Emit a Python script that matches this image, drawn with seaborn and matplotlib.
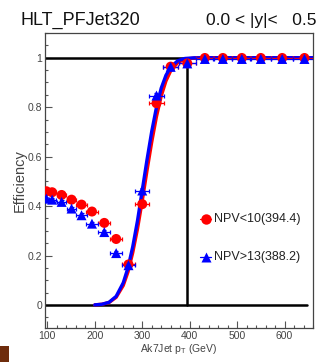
import numpy as np
import pandas as pd
import matplotlib
matplotlib.use("Agg")
import matplotlib.pyplot as plt
import seaborn as sns
from matplotlib.ticker import MultipleLocator, FixedLocator
from matplotlib.patches import Rectangle

sns.set_theme(style="white")
plt.rcParams['font.family'] = ['Liberation Sans', 'DejaVu Sans']

# ---- data ----
pt_bins = [98, 110, 130, 151, 172, 194, 220, 245, 271, 300, 330, 360, 395, 432, 470, 510, 550, 595, 642]
pt_halfwidth = [6, 8, 10, 10, 11, 12, 13, 13, 13, 15, 15, 16, 18, 19, 20, 20, 22, 23, 25]
eff_low = [0.46, 0.456, 0.445, 0.426, 0.406, 0.378, 0.332, 0.267, 0.164, 0.408, 0.816, 0.964, 0.977,
           0.999, 0.999, 0.999, 0.999, 0.999, 0.999]
eff_high = [0.43, 0.426, 0.417, 0.39, 0.363, 0.329, 0.295, 0.21, 0.161, 0.463, 0.847, 0.963, 0.977,
            0.995, 0.995, 0.995, 0.995, 0.995, 0.995]
err_low = [0.008, 0.008, 0.008, 0.008, 0.008, 0.008, 0.009, 0.009, 0.01, 0.01, 0.01, 0.006, 0.005,
           0.002, 0.002, 0.002, 0.002, 0.002, 0.002]
err_high = [0.008, 0.008, 0.008, 0.008, 0.008, 0.008, 0.009, 0.009, 0.01, 0.01, 0.01, 0.006, 0.005,
            0.002, 0.002, 0.002, 0.002, 0.002, 0.002]

# fit curves
fit_x = [200, 215, 230, 245, 260, 270, 280, 290, 300, 310, 320, 330, 340, 350, 360, 375, 390, 410, 450, 660]
fit_low = [0.0006, 0.003, 0.010, 0.031, 0.079, 0.134, 0.212, 0.308, 0.421, 0.543, 0.659, 0.762, 0.845,
           0.906, 0.947, 0.981, 0.994, 0.999, 1.0, 1.0]
fit_high = [0.0006, 0.003, 0.011, 0.035, 0.090, 0.151, 0.236, 0.341, 0.464, 0.587, 0.702, 0.800, 0.877,
            0.929, 0.962, 0.988, 0.997, 0.9996, 1.0, 1.0]

labels = ["NPV<10(394.4)", "NPV>13(388.2)"]
threshold = 394.4
title_left = "HLT_PFJet320"
title_right = "0.0 < |y|<   0.5"

RED = "#ff0000"
BLUE = "#0000ff"

fig = plt.figure(figsize=(3.2, 3.62), dpi=100)
ax = fig.add_axes([45/320, 1-328/362, (313-45)/320, (328-33)/362])

# reference lines
ax.plot([95, 648], [1, 1], color="black", lw=1.8, zorder=1)
ax.plot([95, 648], [0, 0], color="black", lw=1.8, zorder=1)
ax.plot([threshold, threshold], [0, 1], color="black", lw=1.8, zorder=1)

# fit curves
df_fit = pd.DataFrame({"x": fit_x + fit_x,
                       "y": fit_low + fit_high,
                       "s": ["low"] * len(fit_x) + ["high"] * len(fit_x)})
sns.lineplot(data=df_fit, x="x", y="y", hue="s", palette={"low": RED, "high": BLUE},
             lw=2.4, legend=False, ax=ax, zorder=3, sort=False)

# error bars
ax.errorbar(pt_bins, eff_low, xerr=pt_halfwidth, yerr=err_low, fmt="none", ecolor=RED,
            elinewidth=0.9, capsize=1.5, capthick=0.9, zorder=4)
ax.errorbar(pt_bins, eff_high, xerr=pt_halfwidth, yerr=err_high, fmt="none", ecolor=BLUE,
            elinewidth=0.9, capsize=1.5, capthick=0.9, zorder=4)

# markers
df_pts = pd.DataFrame({"x": pt_bins + pt_bins, "y": eff_low + eff_high,
                       "s": [labels[0]] * len(pt_bins) + [labels[1]] * len(pt_bins)})
sns.scatterplot(data=df_pts, x="x", y="y", hue="s", style="s",
                palette={labels[0]: RED, labels[1]: BLUE},
                markers={labels[0]: "o", labels[1]: "^"},
                s=52, edgecolor="none", legend=False, ax=ax, zorder=5)

# legend drawn as markers + text in axes
for lab, col, mk, yy in [(labels[0], RED, "o", 0.369), (labels[1], BLUE, "^", 0.241)]:
    ax.plot([0.60], [yy], marker=mk, color=col, markersize=7.5, transform=ax.transAxes,
            clip_on=False, zorder=6, mec="none")
    ax.plot([0.58, 0.62], [yy, yy], color=col, lw=0.9, transform=ax.transAxes, zorder=6)
    ax.text(0.632, yy, lab, transform=ax.transAxes, ha="left", va="center", fontsize=9,
            color="#222222")

ax.set_xlim(95, 660)
ax.set_ylim(-0.093, 1.1)
ax.xaxis.set_major_locator(FixedLocator([100, 200, 300, 400, 500, 600]))
ax.xaxis.set_minor_locator(MultipleLocator(20))
ax.yaxis.set_major_locator(FixedLocator([0, 0.2, 0.4, 0.6, 0.8, 1.0]))
ax.yaxis.set_minor_locator(MultipleLocator(0.05))
ax.set_yticklabels(["0", "0.2", "0.4", "0.6", "0.8", "1"])
ax.set_xticklabels(["100", "200", "300", "400", "500", "600"])
ax.tick_params(which="both", direction="in", left=True, bottom=True, right=False, top=False,
               colors="#555555", labelcolor="#444444", labelsize=7.5, pad=2)
ax.tick_params(which="major", length=5, width=0.8)
ax.tick_params(which="minor", length=2.5, width=0.8)
for sp in ax.spines.values():
    sp.set_color("#444444")
    sp.set_linewidth(0.9)

ax.set_xlabel("Ak7Jet p$_{\\mathregular{T}}$ (GeV)", fontsize=7.5, color="#444444", labelpad=1)
ax.set_ylabel("Efficiency", fontsize=10.5, color="#444444", labelpad=1)

fig.text(20/320, 1-20/362, title_left, ha="left", va="center", fontsize=13, color="#111111")
fig.text(316/320, 1-20/362, title_right, ha="right", va="center", fontsize=12.5, color="#111111")

fig.patches.append(Rectangle((0, 0), 9/320, 16/362, transform=fig.transFigure,
                             facecolor="#6e2c0c", edgecolor="none"))

fig.savefig("out.png", dpi=100)
